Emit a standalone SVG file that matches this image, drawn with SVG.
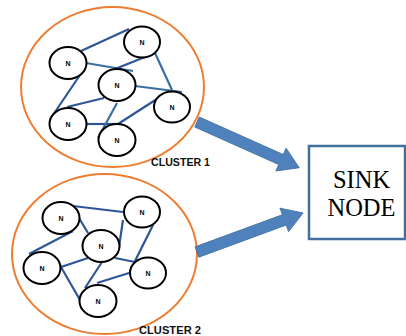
<svg xmlns="http://www.w3.org/2000/svg" width="406" height="336" viewBox="0 0 406 336">
<defs>
<style>
.cluster{fill:none;stroke:#ed7d31;stroke-width:2}
.node ellipse{fill:#fff;stroke:#000;stroke-width:2}
.node text{font-family:"Liberation Sans",Arial,sans-serif;font-size:7px;font-weight:bold;text-anchor:middle;fill:#000}
.e{stroke:#2f5597;stroke-width:2.2;fill:none}
.e2{stroke:#3a6fa3;stroke-width:2.2;fill:none}
.lbl{font-family:"Liberation Sans",Arial,sans-serif;font-size:10.5px;font-weight:bold;fill:#111}
.arrow{fill:#4f81bd;stroke:#41719c;stroke-width:0.8}
.sink{fill:#fff;stroke:#41719c;stroke-width:2.5}
.sinktxt{font-family:"Liberation Serif","Times New Roman",serif;font-size:24.5px;text-anchor:middle;fill:#000}
</style>
</defs>
<rect width="406" height="336" fill="#fff"/>
<g id="cluster1">
<ellipse class="cluster" cx="112.5" cy="87" rx="91.5" ry="80"/>
<text class="lbl" x="151" y="166" textLength="59" lengthAdjust="spacingAndGlyphs">CLUSTER 1</text>
</g>
<g id="cluster2">
<ellipse class="cluster" cx="104.5" cy="254" rx="92.5" ry="80"/>
<text class="lbl" x="139" y="334" textLength="62" lengthAdjust="spacingAndGlyphs">CLUSTER 2</text>
</g>
<g id="connectors">
<line class="e" x1="81" y1="51" x2="129" y2="29"/>
<line class="e2" x1="86" y1="63" x2="133" y2="71"/>
<line class="e" x1="115" y1="69" x2="155" y2="53"/>
<line class="e2" x1="155" y1="53" x2="172" y2="90"/>
<line class="e2" x1="135" y1="86" x2="182" y2="92"/>
<line class="e" x1="80" y1="75" x2="53" y2="115"/>
<line class="e" x1="67" y1="107" x2="104" y2="98"/>
<line class="e" x1="86" y1="124" x2="118" y2="124"/>
<line class="e" x1="118" y1="124" x2="160" y2="97"/>
<line class="e2" x1="117" y1="103" x2="98" y2="138"/>
<line class="e" x1="73" y1="206" x2="123" y2="212"/>
<line class="e" x1="79" y1="218" x2="88" y2="233"/>
<line class="e" x1="73" y1="231" x2="29" y2="254"/>
<line class="e" x1="123" y1="220" x2="119" y2="247"/>
<line class="e" x1="153" y1="225" x2="135" y2="261"/>
<line class="e" x1="115" y1="258" x2="135" y2="262"/>
<line class="e" x1="61" y1="267" x2="88" y2="258"/>
<line class="e" x1="61" y1="267" x2="80" y2="300"/>
<line class="e" x1="102" y1="262" x2="85" y2="288"/>
<line class="e" x1="97" y1="283" x2="129" y2="273"/>
<polygon class="arrow" transform="translate(197,122) rotate(24.1)" points="0,-5.5 92,-5.5 92,-12.5 112,0 92,12.5 92,5.5 0,5.5"/>
<polygon class="arrow" transform="translate(197,252) rotate(-20.2)" points="0,-5.5 93,-5.5 93,-12.5 113,0 93,12.5 93,5.5 0,5.5"/>
</g>
<g id="n1a" class="node"><ellipse cx="142" cy="42" rx="18" ry="15.5"/><text x="142" y="44.5">N</text></g>
<g id="n1b" class="node"><ellipse cx="68" cy="63" rx="18.5" ry="16"/><text x="68" y="65.5">N</text></g>
<g id="n1c" class="node"><ellipse cx="117" cy="85" rx="18.5" ry="16"/><text x="117" y="87.5">N</text></g>
<g id="n1d" class="node"><ellipse cx="172" cy="107" rx="18" ry="15.5"/><text x="172" y="109.5">N</text></g>
<g id="n1e" class="node"><ellipse cx="68" cy="124" rx="18.5" ry="16"/><text x="68" y="126.5">N</text></g>
<g id="n1f" class="node"><ellipse cx="117" cy="140" rx="18.5" ry="16"/><text x="117" y="142.5">N</text></g>
<g id="n2a" class="node"><ellipse cx="61" cy="218" rx="18.5" ry="16"/><text x="61" y="220.5">N</text></g>
<g id="n2b" class="node"><ellipse cx="142" cy="212" rx="18" ry="15.5"/><text x="142" y="214.5">N</text></g>
<g id="n2c" class="node"><ellipse cx="101" cy="246" rx="18.5" ry="16"/><text x="101" y="248.5">N</text></g>
<g id="n2d" class="node"><ellipse cx="42" cy="268" rx="18.5" ry="16"/><text x="42" y="270.5">N</text></g>
<g id="n2e" class="node"><ellipse cx="148" cy="273" rx="18" ry="15.5"/><text x="148" y="275.5">N</text></g>
<g id="n2f" class="node"><ellipse cx="98" cy="301" rx="18.5" ry="16"/><text x="98" y="303.5">N</text></g>
<g id="sink">
<rect class="sink" x="309" y="146" width="96" height="93"/>
<text class="sinktxt" x="361.5" y="188">SINK</text>
<text class="sinktxt" x="361.5" y="216">NODE</text>
</g>
</svg>
